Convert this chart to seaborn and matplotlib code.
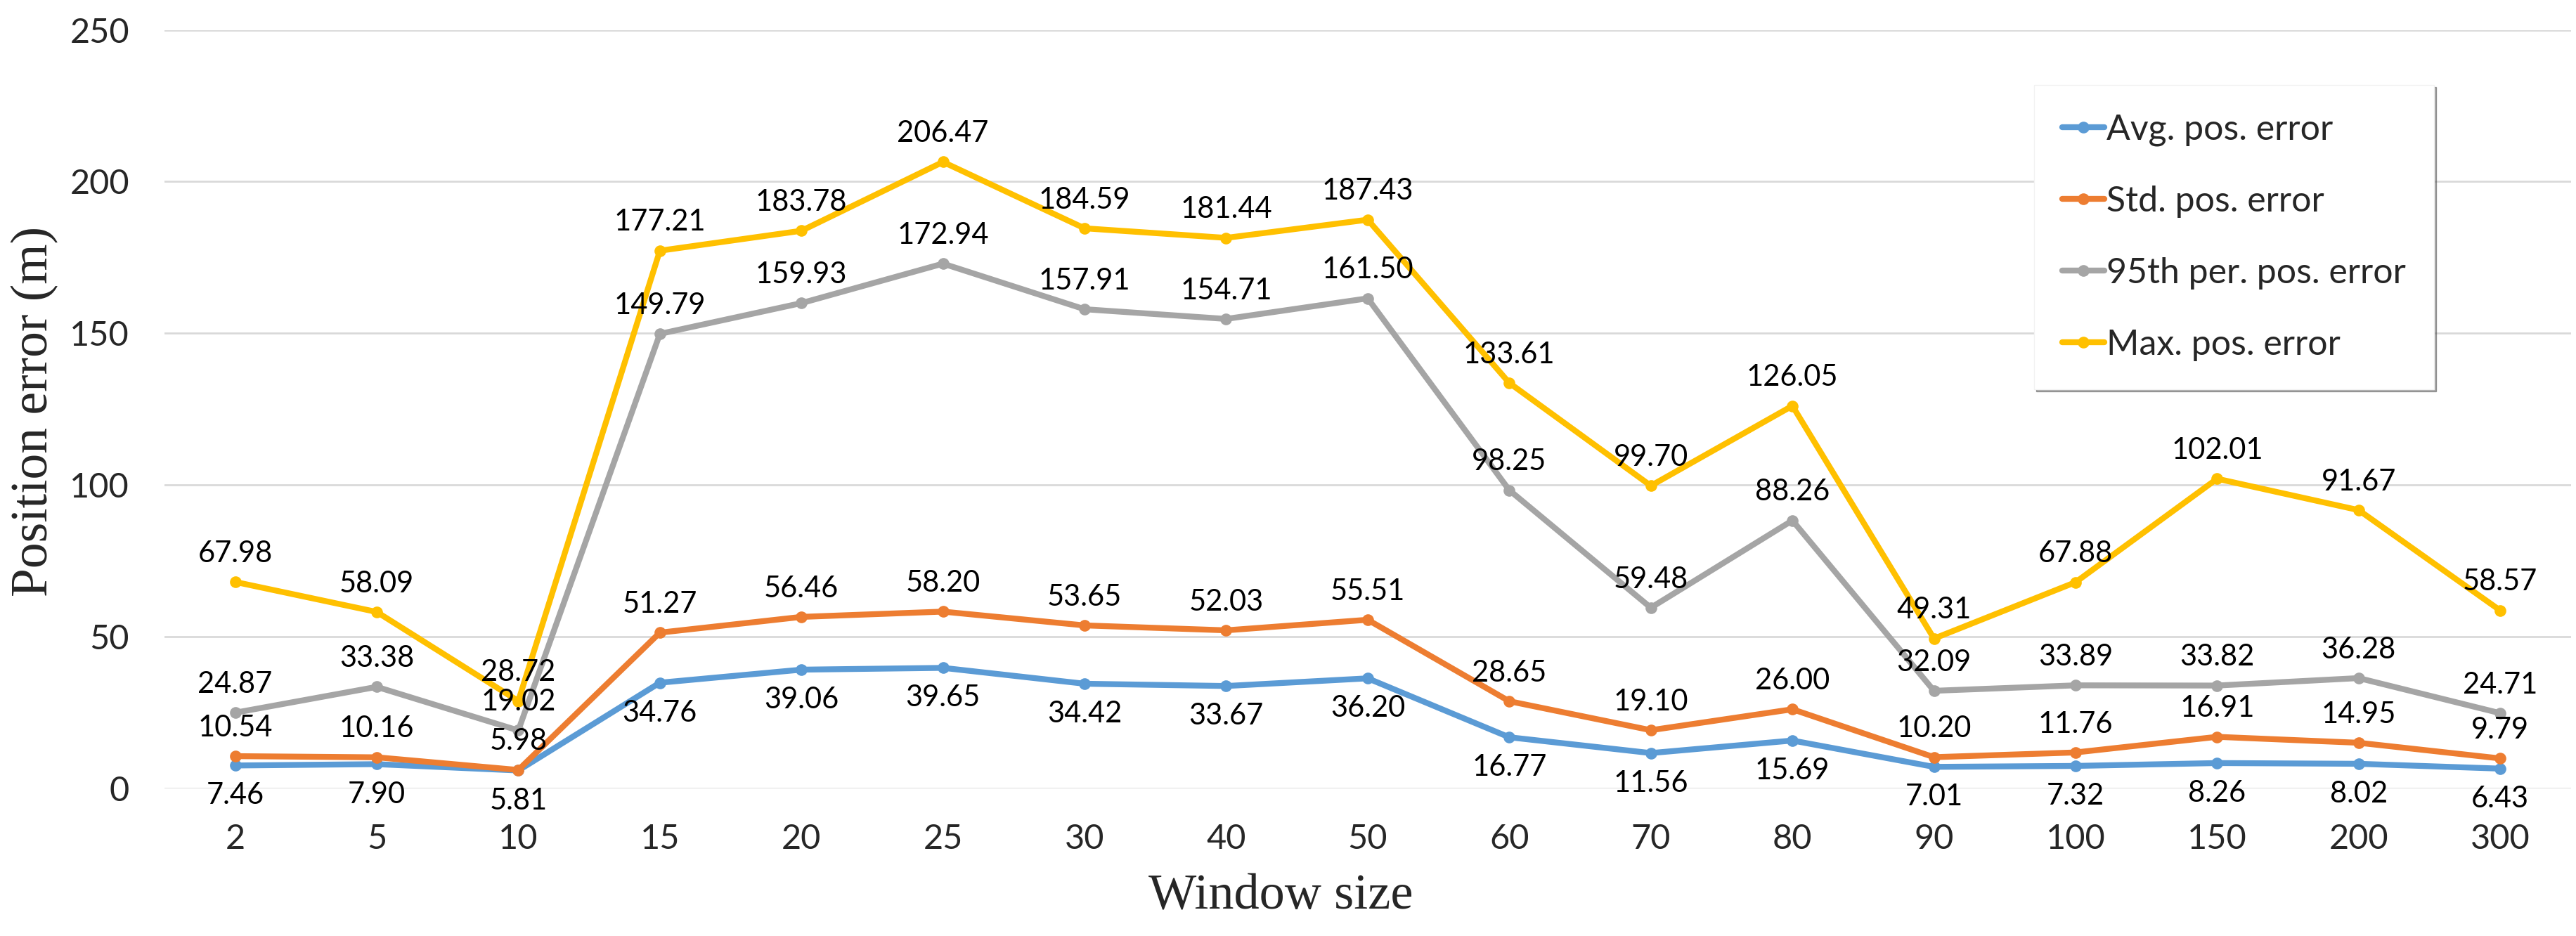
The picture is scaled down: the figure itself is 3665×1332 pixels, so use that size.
import numpy as np
import pandas as pd
import seaborn as sns
from matplotlib import pyplot as plt

# Data
window_sizes = ['2', '5', '10', '15', '20', '25', '30', '40', '50', '60', '70', '80', '90', '100', '150', '200', '300']
avg_err = [7.46, 7.90, 5.81, 34.76, 39.06, 39.65, 34.42, 33.67, 36.20, 16.77, 11.56, 15.69, 7.01, 7.32, 8.26, 8.02, 6.43]
std_err = [10.54, 10.16, 5.98, 51.27, 56.46, 58.20, 53.65, 52.03, 55.51, 28.65, 19.10, 26.00, 10.20, 11.76, 16.91, 14.95, 9.79]
p95_err = [24.87, 33.38, 19.02, 149.79, 159.93, 172.94, 157.91, 154.71, 161.50, 98.25, 59.48, 88.26, 32.09, 33.89, 33.82, 36.28, 24.71]
max_err = [67.98, 58.09, 28.72, 177.21, 183.78, 206.47, 184.59, 181.44, 187.43, 133.61, 99.70, 126.05, 49.31, 67.88, 102.01, 91.67, 58.57]

series_names = ['Avg. pos. error', 'Std. pos. error', '95th per. pos. error', 'Max. pos. error']
colors = ['#5B9BD5', '#ED7D31', '#A5A5A5', '#FFC000']

sns.set_style('white')
num_font = ['Lato', 'DejaVu Sans']
serif_font = ['Liberation Serif', 'DejaVu Serif']

# long format table
rows = []
for name, vals in zip(series_names, [avg_err, std_err, p95_err, max_err]):
    for i, v in enumerate(vals):
        rows.append({'pos': i, 'value': v, 'series': name})
df = pd.DataFrame(rows)

fig = plt.figure(figsize=(36.66, 13.32), dpi=100)
ax = fig.add_axes([0.0638, 0.158, 0.934, 0.81])

sns.lineplot(data=df, x='pos', y='value', hue='series', hue_order=series_names,
             palette=colors, marker='o', markersize=12, markeredgewidth=0,
             linewidth=6, ax=ax, legend=True)

# data labels: avg below, others above
for name, vals in zip(series_names, [avg_err, std_err, p95_err, max_err]):
    off = -31 if name == 'Avg. pos. error' else 29
    for i, v in enumerate(vals):
        ax.annotate('%.2f' % v, (i, v), xytext=(0, off), textcoords='offset points',
                    ha='center', va='center', fontsize=30, family=num_font, color='#000000')

ax.set_xlim(-0.5, len(window_sizes) - 0.5)
ax.set_ylim(0, 250)
ax.set_yticks([0, 50, 100, 150, 200, 250])
ax.set_xticks(range(len(window_sizes)))
ax.set_xticklabels(window_sizes)
for lab in ax.get_xticklabels() + ax.get_yticklabels():
    lab.set_fontsize(35)
    lab.set_family(num_font)
ax.tick_params(axis='x', length=0, pad=36)
ax.tick_params(axis='y', length=0, pad=36)
ax.yaxis.grid(True, color='#D9D9D9', linewidth=2)
ax.set_axisbelow(True)
for s in ax.spines.values():
    s.set_visible(False)

ax.set_xlabel('Window size', fontsize=52, family=serif_font)
ax.set_ylabel('Position error (m)', fontsize=53, family=serif_font)
ax.xaxis.set_label_coords(0.464, -0.113)
ax.yaxis.set_label_coords(-0.044, 0.497)

leg = ax.legend(loc='upper left', bbox_to_anchor=(0.777, 0.927), frameon=True,
                fancybox=False, shadow=True, fontsize=36, labelspacing=1.12,
                borderpad=0.8, handlelength=1.2, handletextpad=0.05, borderaxespad=0)
leg.get_frame().set_edgecolor('#F2F2F2')
leg.get_frame().set_linewidth(1)
for t in leg.get_texts():
    t.set_family(num_font)
for h in leg.legend_handles:
    h.set_linewidth(6)
    h.set_markersize(12)

fig.savefig('out.png', dpi=100)
